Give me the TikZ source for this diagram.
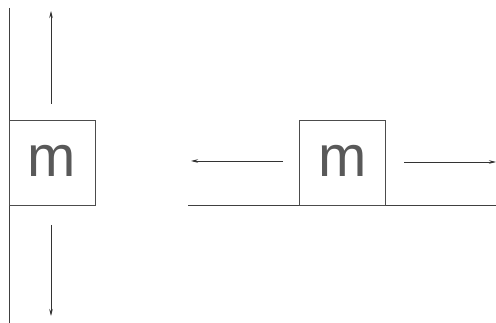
\documentclass[tikz,border=0pt]{standalone}
\usepackage{fontspec}
\setmainfont{Liberation Sans}
\usetikzlibrary{arrows.meta}
\begin{document}
\begin{tikzpicture}[x=1pt,y=-1pt,
  line/.style={draw=black!75,line width=0.8pt},
  force/.style={draw=black!80,line width=0.7pt,-{Stealth[length=7pt,width=3.5pt]}},
  mass/.style={draw=black!70,line width=0.8pt,fill=white,minimum width=86pt,minimum height=85pt,inner sep=0pt,
    text=black!65,font=\fontsize{58}{58}\selectfont}]
\useasboundingbox (0,0) rectangle (496,323);
% wall
\coordinate (wt) at (9,8);
\coordinate (wb) at (9,323);
\draw[line] (wt) -- (wb);
% left mass
\node[mass] (m1) at (52,163) {\raisebox{4pt}{m}};
\coordinate (u0) at (51,104);
\coordinate (u1) at (51,11);
\coordinate (d0) at (51,225);
\coordinate (d1) at (51,316);
\draw[force] (u0) -- (u1);
\draw[force] (d0) -- (d1);
% ground
\coordinate (g0) at (188,205);
\coordinate (g1) at (496,205);
\draw[line] (g0) -- (g1);
% right mass
\node[mass] (m2) at (342.5,162.5) {\raisebox{4pt}{m}};
\coordinate (l0) at (283,161);
\coordinate (l1) at (191,161);
\coordinate (r0) at (404,162);
\coordinate (r1) at (496,162);
\draw[force] (l0) -- (l1);
\draw[force] (r0) -- (r1);
\end{tikzpicture}
\end{document}
